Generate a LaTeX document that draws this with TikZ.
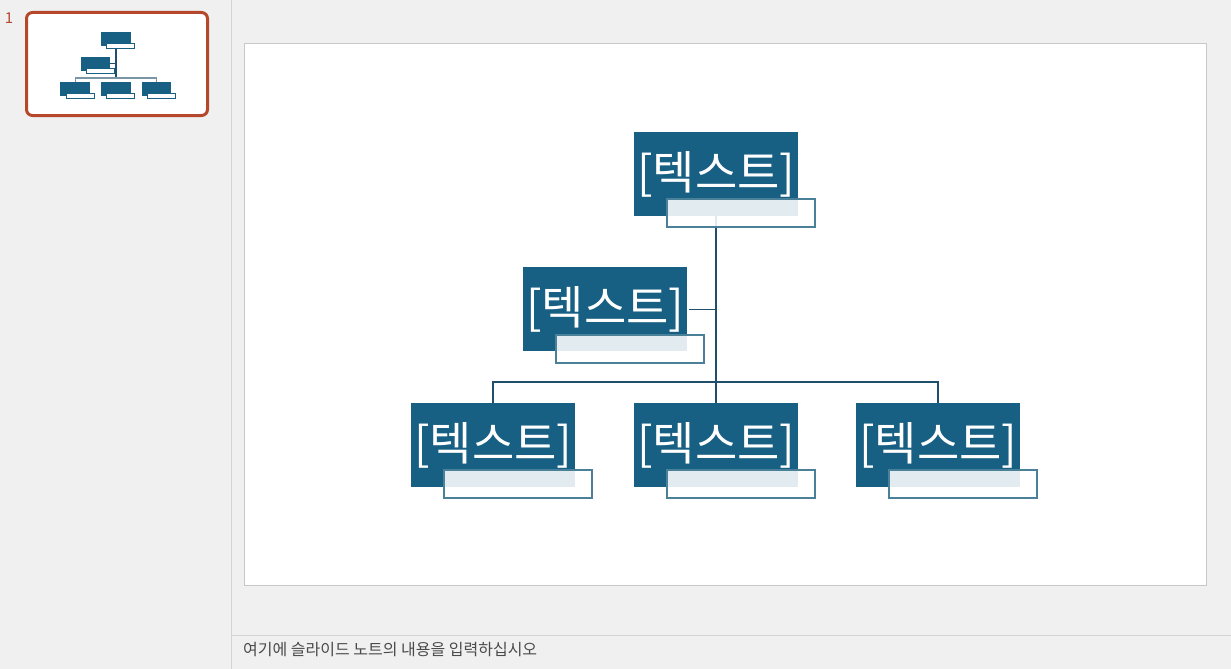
\documentclass[tikz,border=0pt]{standalone}
\usepackage{fontspec}
\newfontfamily\kr{Noto Sans CJK KR}
\definecolor{appbg}{HTML}{F0F0F0}
\definecolor{panelline}{HTML}{D4D4D4}
\definecolor{slideline}{HTML}{C8C8C8}
\definecolor{darkbox}{HTML}{175F83}
\definecolor{connline}{HTML}{1F4F6B}
\definecolor{steel}{HTML}{4A8199}
\definecolor{thumbred}{HTML}{B5472B}
\definecolor{notegray}{HTML}{4A4A4A}
\tikzset{
  x=1pt, y=-1pt,
  darkrect/.style={fill=darkbox, draw=none, minimum width=164pt, minimum height=84pt, inner sep=0pt, anchor=north west, text=white, font=\kr\fontsize{46}{50}\selectfont},
  subrect/.style={draw=steel, line width=2pt, fill=white, fill opacity=0.88, minimum width=148pt, minimum height=28pt, inner sep=0pt, anchor=north west},
  conn/.style={draw=connline, line width=1.8pt},
  tdark/.style={fill=darkbox, draw=none, inner sep=0pt},
  tsub/.style={fill=white, draw=darkbox, line width=1.1pt},
}
\begin{document}
\begin{tikzpicture}
\useasboundingbox (0,0) rectangle (1231,669);
\fill[appbg] (0,0) rectangle (1231,669);
% panel dividers
\draw[panelline, line width=1pt] (231,0) -- (231,669);
\draw[panelline, line width=1pt] (232,635.5) -- (1231,635.5);
% slide
\node[draw=slideline, fill=white, line width=1pt, minimum width=962pt, minimum height=541pt, inner sep=0pt, anchor=north west] (slide) at (243.5,43.5) {};
% notes text
\node[anchor=west, inner sep=0pt, text=notegray, font=\kr\fontsize{16}{18}\selectfont] (notes) at (243,650) {여기에 슬라이드 노트의 내용을 입력하십시오};
% thumbnail
\node[anchor=center, inner sep=0pt, text=thumbred, font=\kr\fontsize{15}{16}\selectfont] (num) at (9,18.5) {1};
\draw[thumbred, line width=3pt, fill=white, rounded corners=6pt] (26.5,12.5) rectangle (207.5,115.5);
\draw[connline, line width=1.8pt] (116,47) -- (116,79);
\draw[connline!60!white, line width=1.4pt] (75.5,83) -- (75.5,78) -- (156.5,78) -- (156.5,83);
\draw[connline, line width=1pt] (110,64) -- (116,64);
\fill[tdark] (101,32) rectangle (131,46);
\draw[tsub] (106.5,43.5) rectangle (134.5,48.5);
\fill[tdark] (81,57) rectangle (110,71);
\draw[tsub] (86.5,68.5) rectangle (114.5,73.5);
\fill[tdark] (60,82) rectangle (90,96);
\draw[tsub] (66.5,93.5) rectangle (94.5,98.5);
\fill[tdark] (101,82) rectangle (131,96);
\draw[tsub] (106.5,93.5) rectangle (134.5,98.5);
\fill[tdark] (142,82) rectangle (171,96);
\draw[tsub] (147.5,93.5) rectangle (175.5,98.5);
% main chart boxes
\node[darkrect] (top) at (634,132) {[텍스트]};
\node[darkrect] (mid) at (523,267) {[텍스트]};
\node[darkrect] (b1) at (411,403) {[텍스트]};
\node[darkrect] (b2) at (634,403) {[텍스트]};
\node[darkrect] (b3) at (856,403) {[텍스트]};
\coordinate (bus) at (716,382);
% connectors
\draw[conn, line width=2.2pt] (top.south) -- (b2.north);
\draw[conn] (b1.north) -- (b1.north |- bus) -- (b3.north |- bus) -- (b3.north);
\draw[conn, line width=1.4pt] ([xshift=2pt]mid.east) -- (mid.east -| top.south);
% sub boxes
\node[subrect] (tops) at (666,198) {};
\node[subrect] (mids) at (555,334) {};
\node[subrect] (b1s) at (443,469) {};
\node[subrect] (b2s) at (666,469) {};
\node[subrect] (b3s) at (888,469) {};
\end{tikzpicture}
\end{document}
